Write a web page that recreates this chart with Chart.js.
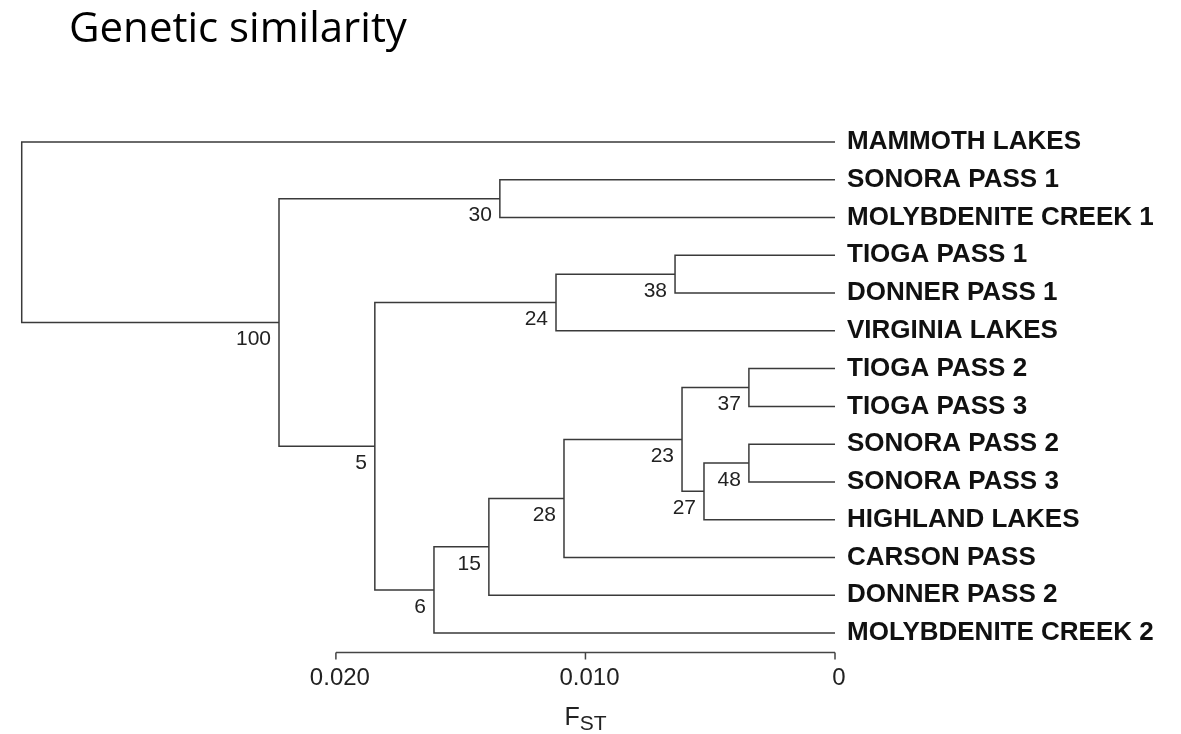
<!DOCTYPE html>
<html>
<head>
<meta charset="utf-8">
<title>Genetic similarity</title>
<script src="https://cdn.jsdelivr.net/npm/chart.js@4.4.0/dist/chart.umd.min.js"></script>
<style>
  html, body { margin: 0; padding: 0; background: #fff; }
  #wrap { width: 1181px; height: 734px; }
</style>
</head>
<body>
<div id="wrap"><canvas id="tree" width="1181" height="734"></canvas></div>
<script>
// Populations, top to bottom (leaf ids 0..13)
const leaves = [
    'MAMMOTH LAKES', 'SONORA PASS 1', 'MOLYBDENITE CREEK 1', 'TIOGA PASS 1',
    'DONNER PASS 1', 'VIRGINIA LAKES', 'TIOGA PASS 2', 'TIOGA PASS 3',
    'SONORA PASS 2', 'SONORA PASS 3', 'HIGHLAND LAKES', 'CARSON PASS',
    'DONNER PASS 2', 'MOLYBDENITE CREEK 2'
];

// Clusters joined at each step; new nodes get ids 14, 15, ...
const mergePairs = [
    [8, 9], [6, 7], [14, 10], [15, 16], [3, 4], [17, 11], [18, 5],
    [1, 2], [19, 12], [22, 13], [20, 23], [21, 24], [0, 25]
];
// FST height of each join
const mergeHeights = [
    0.00345, 0.00345, 0.00525, 0.00613, 0.00641, 0.01086, 0.01118,
    0.01343, 0.01387, 0.01607, 0.01844, 0.02228, 0.03259
];
// Bootstrap support shown under each join (root has none)
const bootstrap = [48, 37, 27, 23, 38, 28, 24, 30, 15, 6, 5, 100, null];

const axisTicks = [0.020, 0.010, 0];
const axisTickLabels = ['0.020', '0.010', '0'];

// node positions: leaves sit on their row, joins halfway between children
const nodeY = leaves.map((_, i) => i);
const nodeH = leaves.map(() => 0);
mergePairs.forEach(([a, b], i) => {
    nodeY.push((nodeY[a] + nodeY[b]) / 2);
    nodeH.push(mergeHeights[i]);
});

// one elbow per join
const datasets = mergePairs.map(([a, b], i) => {
    const h = mergeHeights[i];
    return {
        data: [
            { x: nodeH[a], y: nodeY[a] },
            { x: h, y: nodeY[a] },
            { x: h, y: nodeY[b] },
            { x: nodeH[b], y: nodeY[b] }
        ],
        showLine: true,
        borderColor: '#3a3a3a',
        borderWidth: 1.5,
        pointRadius: 0,
        tension: 0,
        fill: false,
        clip: false
    };
});

const extras = {
    id: 'extras',
    afterDraw(chart) {
        const c = chart.ctx;
        const xs = chart.scales.x;
        const ys = chart.scales.y;
        c.save();

        // title
        c.fillStyle = '#000';
        c.font = '42px "Open Sans", "Noto Sans", sans-serif';
        c.textAlign = 'left';
        c.textBaseline = 'alphabetic';
        c.fillText('Genetic similarity', 69, 42);

        // bootstrap values
        c.fillStyle = '#222';
        c.font = '21px "Liberation Sans", Arial, sans-serif';
        c.textAlign = 'right';
        c.textBaseline = 'middle';
        mergePairs.forEach((_, i) => {
            if (bootstrap[i] == null) return;
            const id = leaves.length + i;
            const px = xs.getPixelForValue(mergeHeights[i]);
            const py = ys.getPixelForValue(nodeY[id]);
            c.fillText(String(bootstrap[i]), px - 8, py + 17);
        });

        // FST axis
        const x0 = xs.getPixelForValue(axisTicks[0]);
        const x1 = xs.getPixelForValue(axisTicks[axisTicks.length - 1]);
        const ay = 652.5;
        c.strokeStyle = '#444';
        c.lineWidth = 1.5;
        c.beginPath();
        c.moveTo(x0, ay);
        c.lineTo(x1, ay);
        axisTicks.forEach(t => {
            const tx = xs.getPixelForValue(t);
            c.moveTo(tx, ay);
            c.lineTo(tx, ay + 7);
        });
        c.stroke();

        c.fillStyle = '#222';
        c.font = '24px "Liberation Sans", Arial, sans-serif';
        c.textAlign = 'center';
        c.textBaseline = 'alphabetic';
        axisTicks.forEach((t, i) => {
            c.fillText(axisTickLabels[i], xs.getPixelForValue(t) + 4, 685);
        });

        // F with subscript ST
        const mid = (x0 + x1) / 2;
        c.font = '25px "Liberation Sans", Arial, sans-serif';
        const wF = c.measureText('F').width;
        c.font = '21px "Liberation Sans", Arial, sans-serif';
        const wST = c.measureText('ST').width;
        const start = mid - (wF + wST) / 2;
        c.textAlign = 'left';
        c.font = '25px "Liberation Sans", Arial, sans-serif';
        c.fillText('F', start, 725);
        c.font = '21px "Liberation Sans", Arial, sans-serif';
        c.fillText('ST', start + wF, 730);

        c.restore();
    }
};

new Chart(document.getElementById('tree').getContext('2d'), {
    type: 'scatter',
    data: { datasets: datasets },
    options: {
        responsive: false,
        animation: false,
        layout: { padding: { left: 4, right: 0, top: 142, bottom: 101 } },
        scales: {
            x: {
                type: 'linear',
                reverse: true,
                min: 0,
                max: 0.0333,
                display: false
            },
            y: {
                type: 'linear',
                reverse: true,
                min: 0,
                max: leaves.length - 1,
                position: 'right',
                grid: { display: false, drawTicks: false },
                border: { display: false },
                afterFit: s => { s.width = 346; },
                ticks: {
                    stepSize: 1,
                    autoSkip: false,
                    padding: 12,
                    crossAlign: 'near',
                    color: '#111',
                    font: { family: '"Liberation Sans", Arial, sans-serif', size: 26, weight: 'bold' },
                    callback: v => leaves[v] || ''
                }
            }
        },
        plugins: {
            legend: { display: false },
            tooltip: { enabled: false }
        }
    },
    plugins: [extras]
});
</script>
</body>
</html>
